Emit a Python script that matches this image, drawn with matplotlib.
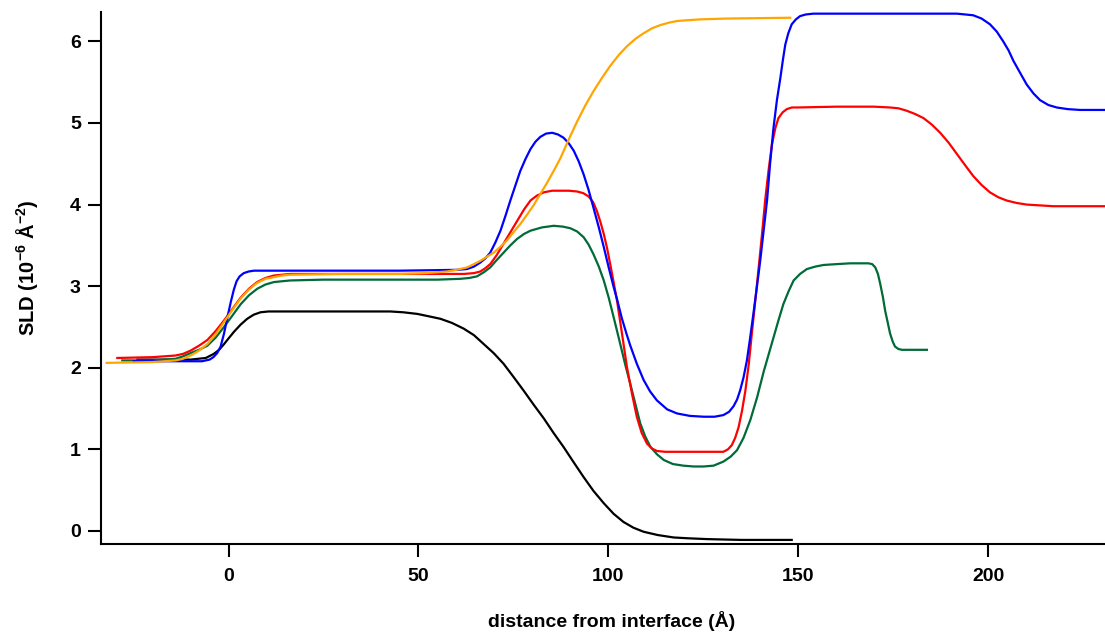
#!/usr/bin/env python3
"""SLD profiles vs distance from interface."""

import matplotlib
matplotlib.use("Agg")
import matplotlib.pyplot as plt

plt.rcParams["font.family"] = ["Liberation Sans", "DejaVu Sans"]
plt.rcParams["font.weight"] = "bold"
plt.rcParams["mathtext.fontset"] = "custom"
plt.rcParams["mathtext.rm"] = "Liberation Sans:bold"
plt.rcParams["mathtext.bf"] = "Liberation Sans:bold"
plt.rcParams["mathtext.default"] = "bf"

# --- data (x in Å, SLD in 1e-6 Å^-2) ---
black_x = [-24, -10, -6, -3.9, -2.5, -1.2, 0, 1.4, 3.2, 4.9, 6.6, 8.4, 10.5,
           12.8, 30, 42.6, 46, 49.7, 52.8, 55.8, 58.8, 61.9, 64.6, 67.2, 69.8,
           72.4, 75, 77.7, 80.3, 83, 85.6, 88.2, 90.9, 93.5, 96.1, 98.8, 101.4,
           104, 106.6, 109.3, 113, 117.2, 121, 126, 135, 148.3]
black_y = [2.10, 2.10, 2.12, 2.17, 2.22, 2.29, 2.36, 2.44, 2.53, 2.60, 2.65,
           2.68, 2.69, 2.69, 2.69, 2.69, 2.68, 2.66, 2.63, 2.60, 2.55, 2.48,
           2.40, 2.29, 2.18, 2.05, 1.89, 1.72, 1.55, 1.38, 1.20, 1.03, 0.84,
           0.66, 0.49, 0.34, 0.21, 0.11, 0.04, -0.01, -0.05, -0.08, -0.09,
           -0.10, -0.11, -0.11]

green_x = [-28, -20, -14, -12, -10, -7.8, -5.6, -3.4, -1.2, 1, 3.2, 5.4, 7.6,
           9.7, 11.9, 14, 16.3, 25, 40, 55, 61, 63.3, 65.4, 67.2, 68.9, 70.6,
           72.4, 74.2, 76, 77.8, 79.5, 82.5, 85.6, 88, 90, 91.8, 93.5, 94.8,
           96.1, 97.5, 98.8, 100.1, 101.4, 103.2, 104.5, 105.8, 107.1, 108.4,
           109.7, 111.1, 112.8, 114.6, 117, 119.8, 122.5, 125.1, 127.7, 130.3,
           132.2, 133.9, 135.6, 137.4, 139.2, 140.9, 142.2, 143.5, 144.8, 146.1,
           147.5, 148.8, 150.5, 152.3, 154.5, 156.7, 160, 163.7, 168.5, 169.5,
           170.3, 171, 171.6, 172.3, 172.9, 173.6, 174.2, 174.9, 175.5, 176.4,
           177.3, 183.9]
green_y = [2.09, 2.09, 2.11, 2.14, 2.18, 2.22, 2.27, 2.37, 2.50, 2.64, 2.78,
           2.89, 2.97, 3.02, 3.05, 3.06, 3.07, 3.08, 3.08, 3.08, 3.09, 3.10,
           3.12, 3.17, 3.23, 3.32, 3.41, 3.50, 3.58, 3.64, 3.68, 3.72, 3.74,
           3.73, 3.71, 3.67, 3.60, 3.51, 3.39, 3.24, 3.07, 2.86, 2.62, 2.28,
           2.03, 1.80, 1.56, 1.32, 1.16, 1.03, 0.94, 0.87, 0.82, 0.80, 0.79,
           0.79, 0.80, 0.85, 0.91, 0.99, 1.14, 1.36, 1.64, 1.95, 2.16, 2.37,
           2.58, 2.78, 2.94, 3.07, 3.15, 3.21, 3.24, 3.26, 3.27, 3.28, 3.28,
           3.27, 3.23, 3.15, 3.03, 2.87, 2.70, 2.55, 2.42, 2.32, 2.26, 2.23,
           2.22, 2.22]

red_x = [-29.3, -20, -14, -12, -10, -7.8, -5.6, -3.4, -1.2, 1, 3.2, 5.4, 7.5,
         9.7, 11.9, 14, 16.3, 40, 62, 64.6, 66.3, 67.6, 68.9, 70.6, 72.4, 74.2,
         76, 77.8, 79.5, 81.2, 83, 85.2, 87.4, 89.6, 91.8, 93.4, 94.8, 96, 97,
         97.9, 98.8, 99.7, 100.5, 101.4, 102.3, 103.6, 104.9, 106.2, 107.5,
         108.8, 110.2, 111.5, 112.8, 115, 120, 130.3, 131.5, 132.5, 133.4,
         134.3, 135.2, 136.1, 137, 137.8, 138.7, 139.6, 140.5, 141.3, 142.2,
         143.1, 144, 144.8, 145.9, 147, 148.3, 149.7, 160, 170, 174.2, 176.4,
         178.6, 180.8, 183, 185.2, 187.4, 189.6, 191.8, 194, 196.1, 198.3,
         200.5, 202.7, 204.9, 207.5, 210.2, 213.7, 217.2, 232]
red_y = [2.12, 2.13, 2.15, 2.17, 2.21, 2.27, 2.34, 2.45, 2.58, 2.72, 2.86,
         2.97, 3.05, 3.10, 3.13, 3.14, 3.15, 3.15, 3.15, 3.16, 3.18, 3.22,
         3.27, 3.38, 3.52, 3.66, 3.80, 3.94, 4.05, 4.11, 4.15, 4.17, 4.17,
         4.17, 4.16, 4.14, 4.10, 4.03, 3.92, 3.79, 3.64, 3.46, 3.27, 3.05,
         2.82, 2.42, 2.01, 1.69, 1.40, 1.20, 1.07, 1.01, 0.98, 0.97, 0.97,
         0.97, 1.00, 1.05, 1.14, 1.27, 1.47, 1.72, 2.05, 2.42, 2.82, 3.23,
         3.65, 4.05, 4.42, 4.74, 4.94, 5.06, 5.13, 5.17, 5.19, 5.19, 5.20,
         5.20, 5.19, 5.18, 5.15, 5.11, 5.06, 4.98, 4.88, 4.76, 4.62, 4.48,
         4.35, 4.24, 4.15, 4.09, 4.05, 4.02, 4.00, 3.99, 3.98, 3.98]

blue_x = [-25, -15, -7, -6, -5, -4, -3, -2.1, -1.2, -0.3, 0.6, 1.4, 2.1, 2.9,
          4.0, 5.3, 6.7, 15, 45, 60, 62.8, 64.6, 66.3, 67.6, 68.9, 70.2, 71.6,
          72.9, 74.2, 75.5, 76.8, 78.2, 79.5, 80.8, 82.1, 83.6, 85.2, 86.7,
          88.2, 89.6, 90.9, 92.2, 93.5, 94.8, 96.1, 97.5, 98.8, 100.1, 101.4,
          102.3, 103.6, 104.9, 105.8, 107.5, 109.3, 111, 112.8, 115.5, 118.1,
          121.5, 125.1, 128, 130.3, 131.8, 133, 133.9, 134.7, 135.6, 136.5,
          137.3, 138.2, 139.1, 140, 140.9, 141.8, 142.6, 143.5, 144.4, 145.3,
          146, 146.6, 147.4, 148.3, 149.4, 150.5, 152, 154, 191.8, 194, 196.1,
          198.3, 200.5, 202.3, 204, 205.4, 206.7, 208.5, 210.2, 212, 213.7,
          215.9, 218.1, 221, 224.2, 232]
blue_y = [2.08, 2.08, 2.08, 2.09, 2.10, 2.13, 2.18, 2.26, 2.42, 2.62, 2.81,
          2.96, 3.06, 3.12, 3.16, 3.18, 3.19, 3.19, 3.19, 3.20, 3.21, 3.24,
          3.29, 3.34, 3.41, 3.53, 3.68, 3.86, 4.05, 4.23, 4.41, 4.56, 4.68,
          4.77, 4.83, 4.87, 4.88, 4.86, 4.82, 4.75, 4.66, 4.53, 4.37, 4.18,
          3.96, 3.72, 3.48, 3.23, 2.99, 2.84, 2.60, 2.40, 2.27, 2.05, 1.85,
          1.71, 1.60, 1.49, 1.44, 1.41, 1.40, 1.40, 1.42, 1.46, 1.53, 1.61,
          1.72, 1.88, 2.09, 2.35, 2.66, 2.98, 3.31, 3.68, 4.05, 4.50, 4.94,
          5.28, 5.55, 5.78, 5.96, 6.10, 6.21, 6.27, 6.31, 6.33, 6.34, 6.34,
          6.33, 6.32, 6.28, 6.21, 6.12, 6.00, 5.89, 5.76, 5.61, 5.47, 5.36,
          5.28, 5.22, 5.19, 5.17, 5.16, 5.16]

orange_x = [-32.1, -20, -14, -12, -10, -7.8, -5.6, -3.4, -1.2, 1, 3.2, 5.4,
            7.5, 9.7, 11.9, 14, 16.3, 30, 45, 52, 57.5, 60, 62.8, 64.6, 66.3,
            68, 69.8, 71.5, 73.3, 75, 76.8, 78.5, 80.3, 82.1, 83.9, 85.7, 87.4,
            89.6, 91.8, 94, 96.1, 98.3, 100.5, 102.7, 104.9, 107.1, 109.3,
            111.5, 113.7, 116, 118.1, 121, 124.2, 131.2, 147.9]
orange_y = [2.06, 2.07, 2.09, 2.11, 2.15, 2.21, 2.29, 2.41, 2.56, 2.71, 2.85,
            2.96, 3.04, 3.09, 3.11, 3.13, 3.14, 3.15, 3.15, 3.16, 3.18, 3.20,
            3.23, 3.27, 3.31, 3.36, 3.41, 3.48, 3.56, 3.66, 3.76, 3.87, 3.99,
            4.13, 4.27, 4.42, 4.57, 4.80, 5.02, 5.22, 5.39, 5.55, 5.70, 5.83,
            5.94, 6.03, 6.10, 6.16, 6.20, 6.23, 6.25, 6.26, 6.27, 6.28, 6.29]

x_ticks = [0, 50, 100, 150, 200]
y_ticks = [0, 1, 2, 3, 4, 5, 6]

fig = plt.figure(figsize=(11.05, 6.33), dpi=100)
ax = fig.add_axes([0.0914, 0.1406, 0.9086, 0.8404])

lw = 1.6
ax.plot(black_x, black_y, color="black", lw=lw)
ax.plot(green_x, green_y, color="#006b38", lw=lw)
ax.plot(red_x, red_y, color="#ff0000", lw=lw)
ax.plot(blue_x, blue_y, color="#0000ff", lw=lw)
ax.plot(orange_x, orange_y, color="#ffa500", lw=lw)

ax.set_xlim(-33.6, 230.8)
ax.set_ylim(-0.16, 6.36)
ax.set_xticks(x_ticks)
ax.set_yticks(y_ticks)

for side in ("top", "right"):
    ax.spines[side].set_visible(False)
for side in ("left", "bottom"):
    ax.spines[side].set_linewidth(1.5)

ax.tick_params(axis="both", direction="out", length=9.5, width=1.5,
               labelsize=14)
ax.tick_params(axis="x", pad=8)
ax.tick_params(axis="y", pad=5)
for lab in ax.get_xticklabels() + ax.get_yticklabels():
    lab.set_fontweight("bold")

ax.set_xlabel("distance from interface (Å)", fontsize=14, fontweight="bold")
ax.set_ylabel(r"SLD (10$^{-6}$ Å$^{-2}$)", fontsize=14.5, fontweight="bold")
ax.xaxis.set_label_coords(0.509, -0.126)
ax.yaxis.set_label_coords(-0.061, 0.52)

fig.savefig("out.png", dpi=100)
